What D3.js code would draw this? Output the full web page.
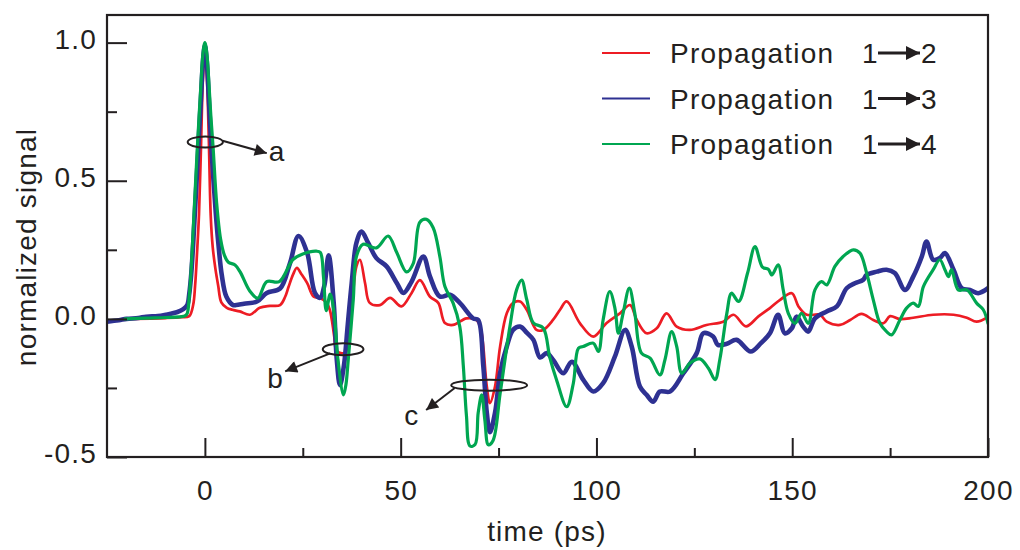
<!DOCTYPE html>
<html><head><meta charset="utf-8">
<script src="https://cdn.jsdelivr.net/npm/d3@7"></script>
<style>
html,body{margin:0;padding:0;background:#fff;}
svg{display:block;font-family:"Liberation Sans",Arial,sans-serif;}
</style>
</head><body>
<svg id="chart" width="1020" height="550"></svg>
<script>
// ---- data (time in ps, normalized signal) ----
const seriesNames = ["Propagation", "Propagation", "Propagation"];
const seriesTargets = ["2", "3", "4"];
const seriesColors = ["#ed1c24", "#2e3192", "#00a651"];

const red = [[-20,0],[-10,0.003],[-6,0.006],[-4,0.01],[-3,0.05],[-2.5,0.12],[-2,0.24],[-1.5,0.38],[-1,0.62],[-0.5,0.87],[0,0.97],[0.5,0.88],[1,0.65],[1.5,0.37],[2,0.26],[2.7,0.18],[3.4,0.12],[4.2,0.06],[5.6,0.04],[7,0.033],[8.9,0.027],[11.5,0.015],[14,0.04],[16.6,0.047],[19.2,0.05],[20.5,0.08],[21.4,0.117],[22.5,0.16],[23.5,0.185],[24.5,0.165],[26.1,0.13],[27.8,0.08],[29.4,0.076],[31,0.06],[31.9,0.033],[33,-0.06],[33.6,-0.115],[35,-0.125],[36,-0.12],[37,-0.03],[37.5,0.03],[38.7,0.19],[39.6,0.214],[40.9,0.13],[42.1,0.058],[44.7,0.05],[47.3,0.076],[50.2,0.045],[52.8,0.094],[54.9,0.14],[57.5,0.08],[59.6,0.058],[61.3,-0.015],[63.4,-0.022],[66.8,0.002],[69.4,-0.005],[70.5,-0.04],[71.1,-0.1],[72,-0.245],[72.8,-0.305],[74.1,-0.245],[75.4,-0.1],[77.1,0.02],[78.7,0.058],[80.5,0.063],[82.2,0.033],[84.7,-0.04],[86.4,-0.04],[88.9,-0.004],[90.7,0.033],[92.4,0.063],[95.8,-0.016],[99.2,-0.064],[102.6,-0.015],[106,0.02],[108.6,0.05],[110.3,-0.004],[112.8,-0.052],[115.4,-0.034],[117.9,0.02],[120.5,-0.028],[123.9,-0.04],[128.1,-0.022],[132.4,-0.01],[135,0.015],[138.2,-0.027],[141.3,0.008],[144.3,0.039],[146.9,0.069],[149.9,0.093],[151.6,0.045],[153.7,0.015],[157.1,0.015],[158.8,-0.01],[162.2,-0.022],[164.8,-0.004],[167.7,0.018],[170.7,-0.004],[173.3,-0.016],[175,0.01],[177.5,-0.001],[180.9,0.004],[186,0.015],[191.2,0.015],[194.6,0.004],[197.1,-0.01],[200,0.006]];

const blue = [[-25,-0.01],[-22,-0.005],[-20,0],[-17,0.003],[-15,0.008],[-12,0.01],[-10,0.015],[-7,0.025],[-5.5,0.035],[-4.5,0.05],[-4,0.09],[-3.5,0.16],[-3,0.27],[-2.5,0.4],[-2,0.53],[-1.5,0.67],[-1,0.8],[-0.5,0.93],[0,0.99],[0.5,0.93],[1,0.8],[1.5,0.66],[2.2,0.5],[2.8,0.38],[3.4,0.28],[4.3,0.16],[5.5,0.08],[7.2,0.05],[8,0.05],[10,0.055],[13.3,0.063],[15.8,0.094],[19.2,0.11],[21.7,0.2],[23.9,0.3],[26.1,0.24],[28.1,0.094],[29.4,0.076],[30.5,0.12],[31.6,0.23],[32.9,0.058],[33.7,-0.15],[34.5,-0.24],[35.5,-0.17],[36.5,-0.02],[37.5,0.13],[38.7,0.275],[40,0.316],[41.7,0.275],[43.8,0.22],[46.4,0.19],[49,0.13],[50.7,0.094],[52.8,0.135],[55.8,0.226],[57.5,0.153],[60,0.081],[62.6,0.087],[65.1,0.058],[68.5,0.002],[69.8,-0.004],[71.1,-0.17],[72,-0.34],[72.8,-0.41],[74.1,-0.34],[75.4,-0.196],[77.1,-0.1],[78.7,-0.04],[80.5,-0.028],[82.2,-0.05],[83.9,-0.076],[85.6,-0.14],[87.3,-0.124],[89,-0.15],[91.5,-0.197],[93.7,-0.155],[96.6,-0.22],[99.2,-0.263],[101.7,-0.233],[104.7,-0.137],[107.3,-0.04],[109,-0.1],[111.1,-0.245],[112.8,-0.275],[114.5,-0.3],[116.2,-0.263],[118.8,-0.263],[122.2,-0.197],[125.6,-0.124],[127.3,-0.052],[129.8,-0.064],[131,-0.094],[133.3,-0.09],[135.8,-0.076],[139.4,-0.118],[142,-0.088],[144.3,-0.052],[146.4,0.015],[148.1,-0.052],[149.9,-0.034],[151.1,0.008],[152.8,-0.028],[154.1,-0.046],[155.8,0.002],[158.8,0.027],[161.4,0.045],[163.9,0.111],[166,0.129],[168.1,0.141],[169,0.159],[171.6,0.171],[174.1,0.178],[176.2,0.166],[178.8,0.105],[180.9,0.153],[183.1,0.226],[184.3,0.28],[186,0.214],[187.7,0.22],[189,0.238],[191.2,0.178],[193.3,0.111],[195.4,0.105],[197.5,0.093],[200,0.111]];

const green = [[-20.4,0],[-15,0.003],[-10,0.005],[-6,0.008],[-5,0.012],[-4.5,0.02],[-4,0.08],[-3.5,0.18],[-3,0.32],[-2.5,0.46],[-2,0.6],[-1.5,0.73],[-1,0.85],[-0.5,0.96],[0,1.0],[0.5,0.96],[1,0.86],[1.5,0.74],[2.1,0.62],[3,0.42],[4,0.29],[5,0.23],[6,0.205],[7.7,0.195],[9,0.17],[11.5,0.1],[13.5,0.075],[15.8,0.135],[19,0.135],[22.5,0.215],[25,0.235],[28.5,0.245],[29.5,0.24],[30.3,0.15],[31,0.03],[32,0.09],[33,0.02],[34,-0.15],[35.4,-0.275],[36,-0.24],[36.6,-0.15],[37.9,0.07],[38.7,0.226],[40.4,0.27],[43.8,0.257],[46.8,0.3],[49,0.24],[51.5,0.17],[53.2,0.2],[54.9,0.35],[56.6,0.36],[58.3,0.33],[60,0.226],[61.3,0.117],[63.4,0.057],[65.1,-0.028],[66,-0.17],[66.8,-0.35],[67.7,-0.46],[69,-0.455],[69.8,-0.34],[70.7,-0.275],[71.5,-0.366],[72.4,-0.456],[73.6,-0.44],[75.4,-0.27],[77.9,-0.028],[79.6,0.105],[80.9,0.14],[82.2,0.07],[83.9,-0.015],[86.4,-0.033],[88.1,-0.14],[89.8,-0.22],[92.4,-0.318],[94.1,-0.233],[95.4,-0.106],[96.6,-0.1],[99.2,-0.088],[100.5,-0.118],[101.7,-0.004],[103.4,0.099],[104.7,0.04],[105.6,-0.052],[106.8,0.02],[108.4,0.111],[109.8,0.02],[111.5,-0.124],[113.7,-0.142],[116.2,-0.203],[117.5,-0.148],[119.2,-0.046],[120.5,-0.1],[121.8,-0.197],[123.9,-0.16],[126.4,-0.145],[128.6,-0.179],[130.3,-0.22],[131.5,-0.148],[133.3,0.02],[134.5,0.093],[136.3,0.063],[138.6,0.166],[140.5,0.262],[142.4,0.187],[143.9,0.18],[144.8,0.159],[146.4,0.196],[147.7,0.105],[149,0.02],[150.7,-0.016],[152.4,0.02],[154.1,-0.016],[155.8,0.105],[157.5,0.135],[158.8,0.123],[160.9,0.19],[163,0.226],[165.6,0.25],[167.3,0.238],[169,0.166],[170.7,0.069],[172.4,-0.016],[174.1,-0.046],[175.4,-0.058],[177.5,-0.004],[179.2,0.039],[180.9,0.057],[182.2,0.045],[183.5,0.117],[186,0.178],[187.7,0.214],[189,0.178],[189.9,0.153],[190.7,0.178],[192.4,0.105],[194.6,0.105],[197.1,0.057],[198.8,0.033],[200,-0.016]];

const xMajorTicks = [0, 50, 100, 150, 200];
const xMinorTicks = [25, 75, 125, 175];
const yMajorTicks = [-0.5, 0, 0.5, 1.0];
const yMinorTicks = [-0.25, 0.25, 0.75];

// annotations: label, ellipse centre (time, signal), radii, arrow, label anchor
const annotLabels = ["a", "b", "c"];
const annotCenters = [[0.1, 0.64], [35.3, -0.11], [72.6, -0.24]];
const annotRadii = [[4.5, 0.02], [5.2, 0.022], [9.7, 0.02]];
const annotArrowTo = [[15.8, 0.6], [20.5, -0.19], [56.5, -0.33]];
const annotArrowFrom = [[4.5, 0.645], [32, -0.125], [63.8, -0.25]];
const annotTextPos = [[16.3, 0.57], [15.9, -0.25], [50.9, -0.385]];

// ---- drawing ----
const svg = d3.select("#chart");
const ink = "#231f20";
const pL = 107, pR = 988, pT = 15, pB = 457;
const x = d3.scaleLinear().domain([-25, 200]).range([pL, pR]);
const y = d3.scaleLinear().domain([-0.5, 1.1]).range([pB, pT]);

const defs = svg.append("defs");
defs.append("marker").attr("id", "head").attr("viewBox", "0 0 10 10")
  .attr("refX", 10).attr("refY", 5).attr("markerUnits", "userSpaceOnUse")
  .attr("markerWidth", 15).attr("markerHeight", 12).attr("orient", "auto")
  .append("path").attr("d", "M0,0 L10,5 L0,10 Z").attr("fill", ink);
defs.append("marker").attr("id", "headLeg").attr("viewBox", "0 0 10 10")
  .attr("refX", 10).attr("refY", 5).attr("markerUnits", "userSpaceOnUse")
  .attr("markerWidth", 18).attr("markerHeight", 14).attr("orient", "auto")
  .append("path").attr("d", "M0,0 L10,5 L0,10 Z").attr("fill", ink);
defs.append("clipPath").attr("id", "plotclip").append("rect")
  .attr("x", pL).attr("y", pT).attr("width", pR - pL).attr("height", pB - pT);

// lines
const line = d3.line().x(d => x(d[0])).y(d => y(d[1])).curve(d3.curveCatmullRom.alpha(0.5));
const allSeries = [red, blue, green];
const widths = [2.7, 4.6, 3.2];
const plot = svg.append("g").attr("clip-path", "url(#plotclip)");
allSeries.forEach((s, i) => {
  plot.append("path").datum(s).attr("d", line)
    .attr("fill", "none").attr("stroke", seriesColors[i])
    .attr("stroke-width", widths[i]).attr("stroke-linejoin", "round").attr("stroke-linecap", "round");
});

// axes (ticks pointing inward)
const fontSize = 28, ls = 1.2;
function styleAxis(g) {
  g.select(".domain").remove();
  g.selectAll(".tick line").attr("stroke", ink).attr("stroke-width", 2);
  g.selectAll(".tick text").attr("fill", ink).attr("font-size", fontSize)
    .attr("letter-spacing", ls).attr("font-family", "'Liberation Sans', Arial, sans-serif");
}
const yFmt = v => d3.format(".1f")(v).replace("\u2212", "-");
svg.append("g").attr("transform", `translate(0,${pB})`)
  .call(d3.axisBottom(x).tickValues(xMajorTicks).tickFormat(d3.format("d")).tickSizeInner(-19).tickSizeOuter(0).tickPadding(23))
  .call(styleAxis);
svg.append("g").attr("transform", `translate(0,${pB})`)
  .call(d3.axisBottom(x).tickValues(xMinorTicks).tickFormat("").tickSizeInner(-9).tickSizeOuter(0))
  .call(styleAxis);
svg.append("g").attr("transform", `translate(${pL},0)`)
  .call(d3.axisLeft(y).tickValues(yMajorTicks).tickFormat(yFmt).tickSizeInner(-20).tickSizeOuter(0).tickPadding(10))
  .call(styleAxis)
  .call(g => g.selectAll(".tick text").attr("dy", "0.2em"));
svg.append("g").attr("transform", `translate(${pL},0)`)
  .call(d3.axisLeft(y).tickValues(yMinorTicks).tickFormat("").tickSizeInner(-10).tickSizeOuter(0))
  .call(styleAxis);

// frame
svg.append("rect").attr("x", pL).attr("y", pT).attr("width", pR - pL).attr("height", pB - pT)
  .attr("fill", "none").attr("stroke", ink).attr("stroke-width", 2.2);

// axis titles
svg.append("text").attr("x", 547).attr("y", 541).attr("text-anchor", "middle")
  .attr("font-size", fontSize).attr("letter-spacing", ls).attr("fill", ink).text("time (ps)");
svg.append("text").attr("transform", "translate(36,247) rotate(-90)").attr("text-anchor", "middle")
  .attr("font-size", fontSize).attr("letter-spacing", ls).attr("fill", ink).text("normalized signal");

// annotations
annotLabels.forEach((lab, i) => {
  const c = annotCenters[i], r = annotRadii[i];
  svg.append("ellipse").attr("cx", x(c[0])).attr("cy", y(c[1]))
    .attr("rx", x(r[0]) - x(0)).attr("ry", y(0) - y(r[1]))
    .attr("fill", "none").attr("stroke", ink).attr("stroke-width", 2);
  const f = annotArrowFrom[i], t = annotArrowTo[i];
  svg.append("line").attr("x1", x(f[0])).attr("y1", y(f[1])).attr("x2", x(t[0])).attr("y2", y(t[1]))
    .attr("stroke", ink).attr("stroke-width", 2).attr("marker-end", "url(#head)");
  const p = annotTextPos[i];
  svg.append("text").attr("x", x(p[0])).attr("y", y(p[1])).attr("font-size", fontSize)
    .attr("fill", ink).text(lab);
});

// legend
const legY = [63, 108.5, 154];
seriesNames.forEach((name, i) => {
  const g = svg.append("g");
  const my = legY[i] - 10;
  g.append("line").attr("x1", 602).attr("x2", 650).attr("y1", my).attr("y2", my)
    .attr("stroke", seriesColors[i]).attr("stroke-width", 2.2);
  g.append("text").attr("x", 670).attr("y", legY[i]).attr("font-size", fontSize)
    .attr("letter-spacing", ls).attr("fill", ink).text(name);
  g.append("text").attr("x", 862).attr("y", legY[i]).attr("font-size", fontSize)
    .attr("fill", ink).text("1");
  g.append("line").attr("x1", 878).attr("x2", 920).attr("y1", my).attr("y2", my)
    .attr("stroke", ink).attr("stroke-width", 2.8).attr("marker-end", "url(#headLeg)");
  g.append("text").attr("x", 921).attr("y", legY[i]).attr("font-size", fontSize)
    .attr("fill", ink).text(seriesTargets[i]);
});
</script>
</body></html>
